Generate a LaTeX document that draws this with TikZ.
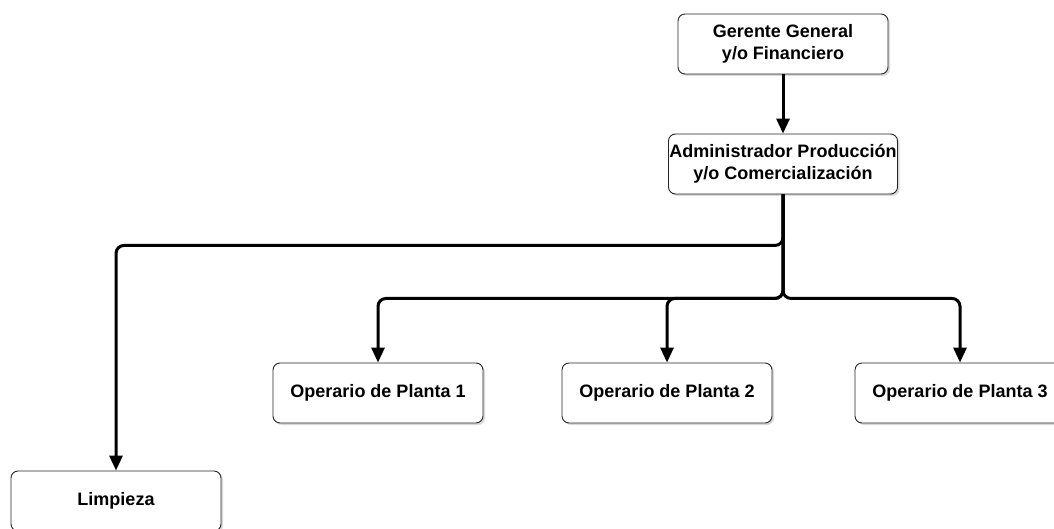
\documentclass[tikz,border=0pt]{standalone}
\usepackage{fontspec}
\setmainfont{Liberation Sans}
\usetikzlibrary{arrows.meta,shadows}

\tikzset{
  puesto/.style={draw=black!85, line width=0.9pt, rounded corners=7pt, fill=white,
    minimum width=210pt, minimum height=60pt, align=center, inner xsep=1pt,
    font=\bfseries\fontsize{18}{21.5}\selectfont,
    drop shadow={opacity=0.3, shadow xshift=2pt, shadow yshift=-2pt}},
  enlace/.style={line width=3pt, rounded corners=8pt,
    -{Triangle[length=15pt,width=13pt]}}
}

\begin{document}
\begin{tikzpicture}[x=1pt,y=-1pt]
\useasboundingbox (0,0) rectangle (1054,529);
\clip (0,0) rectangle (1054,529);
% puestos
\node[puesto] (gerente) at (783,44) {Gerente General\\y/o Financiero};
\node[puesto, minimum width=229pt] (admin) at (783,164) {Administrador Producci\'on\\y/o Comercializaci\'on};
\foreach\i/\x in {1/378,2/667,3/960}
  {
  \node[puesto] (op\i) at (\x,393) {Operario de Planta \i};
  }
\node[puesto] (limpieza) at (116,501) {Limpieza};
%
% enlaces
\draw[enlace] (gerente) -- (admin);
\draw[enlace] (admin.south) -- ++(0,51) -| (limpieza.north);
\foreach\i in {1,2,3}
  \draw[enlace] (admin.south) -- ++(0,104) -| (op\i.north);
\end{tikzpicture}
\end{document}
